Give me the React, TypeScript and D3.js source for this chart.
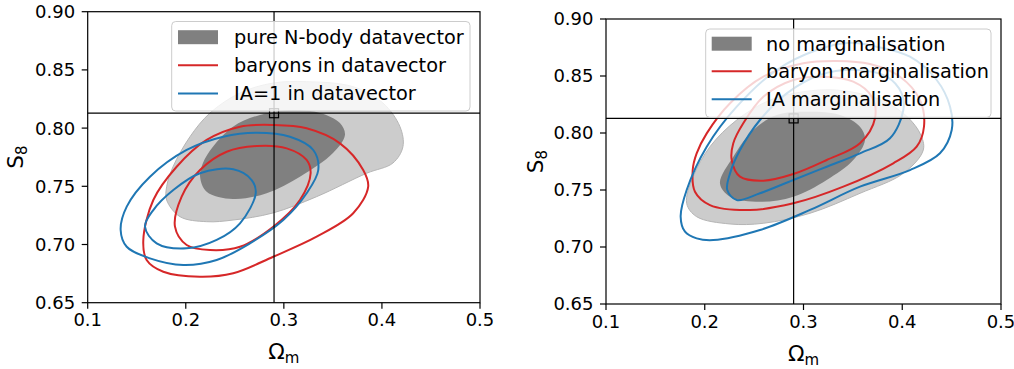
import * as d3 from 'd3'

type Pt = [number, number]

const xTicks = [0.1, 0.2, 0.3, 0.4, 0.5]
const yTicks = [0.65, 0.7, 0.75, 0.8, 0.85, 0.9]
const fiducial: Pt = [0.29, 0.8128]

// left panel: pure N-body (filled), baryons and IA=1 in datavector (lines)
const nbodyOuterL: Pt[] = [
  [0.1805, 0.7382], [0.1941, 0.7239], [0.2213, 0.7196], [0.2481, 0.721], [0.2889, 0.7271],
  [0.3334, 0.7411], [0.3844, 0.7612], [0.4112, 0.77], [0.4214, 0.784], [0.4184, 0.8012],
  [0.401, 0.8216], [0.3704, 0.8356], [0.3232, 0.8399], [0.2889, 0.8387], [0.2553, 0.8302],
  [0.2247, 0.813], [0.2043, 0.7926], [0.187, 0.7668], [0.1805, 0.7497],
]
const nbodyInnerL: Pt[] = [
  [0.2146, 0.7582], [0.2213, 0.7454], [0.2481, 0.7391], [0.2825, 0.744], [0.3164, 0.7582],
  [0.3501, 0.7786], [0.3623, 0.7941], [0.3572, 0.8044], [0.3368, 0.813], [0.3093, 0.8155],
  [0.2756, 0.8113], [0.2481, 0.8012], [0.2277, 0.784], [0.2175, 0.77],
]
const baryonOuterL: Pt[] = [
  [0.1567, 0.7039], [0.1601, 0.6867], [0.1771, 0.6766], [0.2145, 0.6723], [0.2484, 0.6753],
  [0.2892, 0.6895], [0.3334, 0.7067], [0.3707, 0.7268], [0.386, 0.7497], [0.3809, 0.764],
  [0.3572, 0.7869], [0.3232, 0.7998], [0.2892, 0.8027], [0.2553, 0.8012], [0.2213, 0.7898],
  [0.1907, 0.7668], [0.1669, 0.7382],
]
const baryonInnerL: Pt[] = [
  [0.189, 0.7153], [0.2009, 0.6996], [0.2247, 0.6953], [0.2553, 0.6981], [0.2892, 0.7153],
  [0.3164, 0.7382], [0.3273, 0.7612], [0.3232, 0.7726], [0.3029, 0.7826], [0.2723, 0.7846],
  [0.2417, 0.7797], [0.2145, 0.764], [0.1958, 0.7411],
]
const iaOuterL: Pt[] = [
  [0.1336, 0.7125], [0.1398, 0.6981], [0.1635, 0.6881], [0.1975, 0.6824], [0.2315, 0.6867],
  [0.2654, 0.701], [0.2994, 0.721], [0.3232, 0.744], [0.3351, 0.764], [0.33, 0.7812],
  [0.3062, 0.7926], [0.2723, 0.796], [0.2382, 0.7926], [0.2009, 0.7812], [0.1635, 0.7582],
  [0.1398, 0.7325],
]
const iaInnerL: Pt[] = [
  [0.1584, 0.7153], [0.1703, 0.701], [0.2009, 0.6967], [0.2315, 0.7039], [0.2553, 0.7182],
  [0.2713, 0.744], [0.2672, 0.7554], [0.2484, 0.7646], [0.2145, 0.7612], [0.1873, 0.7468],
  [0.1669, 0.7296],
]

// right panel: no / baryon / IA marginalisation
const noMargOuterR: Pt[] = [
  [0.1817, 0.7383], [0.1918, 0.7266], [0.2256, 0.7202], [0.2593, 0.7208], [0.3066, 0.7296],
  [0.3572, 0.7471], [0.4011, 0.7646], [0.4213, 0.7851], [0.418, 0.7997], [0.4011, 0.8173],
  [0.3741, 0.8304], [0.3336, 0.8377], [0.2998, 0.8362], [0.2661, 0.8289], [0.2324, 0.8114],
  [0.2053, 0.788], [0.1884, 0.7617],
]
const noMargInnerR: Pt[] = [
  [0.2154, 0.7559], [0.2256, 0.7441], [0.2559, 0.7397], [0.2897, 0.7441], [0.3235, 0.7588],
  [0.3504, 0.7763], [0.3623, 0.7939], [0.3572, 0.8055], [0.337, 0.8158], [0.3032, 0.8187],
  [0.2729, 0.8158], [0.2492, 0.8026], [0.2289, 0.7792],
]
const baryonOuterR: Pt[] = [
  [0.1878, 0.7675], [0.1901, 0.7485], [0.2053, 0.7368], [0.2458, 0.7325], [0.2897, 0.7383],
  [0.3403, 0.7529], [0.3909, 0.7734], [0.4146, 0.788], [0.422, 0.8055], [0.418, 0.8289],
  [0.3977, 0.8494], [0.3673, 0.8605], [0.3336, 0.8632], [0.2998, 0.8611], [0.2593, 0.8494],
  [0.2256, 0.8261], [0.202, 0.7997], [0.1918, 0.7822],
]
const baryonInnerR: Pt[] = [
  [0.2273, 0.7763], [0.2357, 0.7617], [0.2593, 0.7582], [0.2897, 0.764], [0.3235, 0.7763],
  [0.3572, 0.791], [0.3724, 0.8129], [0.3691, 0.8318], [0.3504, 0.845], [0.32, 0.8494],
  [0.2897, 0.8465], [0.2593, 0.8318], [0.239, 0.8085], [0.2289, 0.791],
]
const iaOuterR: Pt[] = [
  [0.1756, 0.7266], [0.18, 0.7134], [0.1918, 0.7076], [0.2087, 0.7061], [0.2559, 0.7149],
  [0.3066, 0.7325], [0.3572, 0.7529], [0.4078, 0.7675], [0.4382, 0.7822], [0.4501, 0.8026],
  [0.4484, 0.8231], [0.4349, 0.8465], [0.4078, 0.8669], [0.3741, 0.8757], [0.3471, 0.8792],
  [0.3134, 0.8728], [0.2729, 0.8553], [0.2324, 0.8231], [0.202, 0.788], [0.1817, 0.75],
]
const iaInnerR: Pt[] = [
  [0.2228, 0.75], [0.2324, 0.7412], [0.2559, 0.7471], [0.2897, 0.7588], [0.3235, 0.7704],
  [0.3572, 0.7822], [0.3876, 0.7954], [0.4011, 0.8202], [0.3994, 0.8348], [0.3843, 0.8494],
  [0.3539, 0.8553], [0.3167, 0.8509], [0.283, 0.8348], [0.2559, 0.8114], [0.2357, 0.7851],
  [0.2256, 0.7646],
]

const leftLabels = ['pure N-body datavector', 'baryons in datavector', 'IA=1 in datavector']
const rightLabels = ['no marginalisation', 'baryon marginalisation', 'IA marginalisation']

const RED = '#d62728'
const BLUE = '#1f77b4'
const DARK = '#808080'
const LIGHT = '#cccccc'
const FONT = 'DejaVu Sans'

interface Box { left: number; right: number; top: number; bottom: number }
interface LegendBox { x: number; y: number; w: number; h: number; handleX: number; textX: number; rows: number[] }

interface PanelProps {
  box: Box
  outer: Pt[]
  inner: Pt[]
  redLines: Pt[][]
  blueLines: Pt[][]
  labels: string[]
  legend: LegendBox
  yLabelX: number
}

function Panel({ box, outer, inner, redLines, blueLines, labels, legend, yLabelX }: PanelProps) {
  const x = d3.scaleLinear().domain([0.1, 0.5]).range([box.left, box.right])
  const y = d3.scaleLinear().domain([0.65, 0.9]).range([box.bottom, box.top])
  const path = d3
    .line<Pt>()
    .x(d => x(d[0]))
    .y(d => y(d[1]))
    .curve(d3.curveCatmullRomClosed.alpha(0.5))

  const fx = x(fiducial[0])
  const fy = y(fiducial[1])
  const midX = (box.left + box.right) / 2
  const midY = (box.top + box.bottom) / 2

  return (
    <g fontFamily={FONT}>
      {/* contours */}
      <path d={path(outer) ?? ''} fill={LIGHT} stroke="#b5b5b5" strokeWidth={1} />
      <path d={path(inner) ?? ''} fill={DARK} stroke="none" />
      {redLines.map((c, i) => (
        <path key={'r' + i} d={path(c) ?? ''} fill="none" stroke={RED} strokeWidth={2} />
      ))}
      {blueLines.map((c, i) => (
        <path key={'b' + i} d={path(c) ?? ''} fill="none" stroke={BLUE} strokeWidth={2} />
      ))}

      {/* fiducial */}
      <line x1={fx} x2={fx} y1={box.top} y2={box.bottom} stroke="#000" strokeWidth={1.2} />
      <line x1={box.left} x2={box.right} y1={fy} y2={fy} stroke="#000" strokeWidth={1.2} />
      <rect x={fx - 4.5} y={fy - 4.5} width={9} height={9} fill="none" stroke="#000" strokeWidth={1.2} />

      {/* legend */}
      <rect x={legend.x} y={legend.y} width={legend.w} height={legend.h} rx={4}
        fill="#fff" fillOpacity={0.8} stroke="#cccccc" strokeWidth={1} />
      {labels.map((label, i) => {
        const ry = legend.rows[i]
        return (
          <g key={label}>
            {i === 0 ? (
              <rect x={legend.handleX} y={ry - 7} width={40} height={14} fill={DARK} />
            ) : (
              <line x1={legend.handleX} x2={legend.handleX + 40} y1={ry} y2={ry}
                stroke={i === 1 ? RED : BLUE} strokeWidth={2} />
            )}
            <text x={legend.textX} y={ry} dy="0.36em" fontSize={19.3} fill="#000">{label}</text>
          </g>
        )
      })}

      {/* spines */}
      <rect x={box.left} y={box.top} width={box.right - box.left} height={box.bottom - box.top}
        fill="none" stroke="#000" strokeWidth={1.2} />

      {/* x axis */}
      {xTicks.map(t => (
        <g key={'x' + t}>
          <line x1={x(t)} x2={x(t)} y1={box.bottom} y2={box.bottom + 6} stroke="#000" strokeWidth={1.2} />
          <text x={x(t)} y={box.bottom + 23.5} textAnchor="middle" fontSize={18}>{t.toFixed(1)}</text>
        </g>
      ))}
      {/* y axis */}
      {yTicks.map(t => (
        <g key={'y' + t}>
          <line x1={box.left - 6} x2={box.left} y1={y(t)} y2={y(t)} stroke="#000" strokeWidth={1.2} />
          <text x={box.left - 12.5} y={y(t)} dy="0.36em" textAnchor="end" fontSize={18}>{t.toFixed(2)}</text>
        </g>
      ))}

      {/* axis labels */}
      <text x={midX} y={box.bottom + 56.5} textAnchor="middle" fontSize={21.6}>
        Ω<tspan fontSize={15} dy={4}>m</tspan>
      </text>
      <text transform={`translate(${yLabelX},${midY}) rotate(-90)`} textAnchor="middle" fontSize={21.6}>
        S<tspan fontSize={15} dy={4}>8</tspan>
      </text>
    </g>
  )
}

export default function App() {
  return (
    <svg width={1014} height={369} style={{ position: 'absolute', left: 0, top: 0, background: '#fff' }}>
      <rect width={1014} height={369} fill="#fff" />
      <Panel
        box={{ left: 87.7, right: 480, top: 11.7, bottom: 302.7 }}
        outer={nbodyOuterL}
        inner={nbodyInnerL}
        redLines={[baryonOuterL, baryonInnerL]}
        blueLines={[iaOuterL, iaInnerL]}
        labels={leftLabels}
        legend={{ x: 171.7, y: 21.5, w: 298.3, h: 89.5, handleX: 178, textX: 234, rows: [37.2, 65.2, 93.4] }}
        yLabelX={23.3}
      />
      <Panel
        box={{ left: 606, right: 1001, top: 19, bottom: 304 }}
        outer={noMargOuterR}
        inner={noMargInnerR}
        redLines={[baryonOuterR, baryonInnerR]}
        blueLines={[iaOuterR, iaInnerR]}
        labels={rightLabels}
        legend={{ x: 705.7, y: 29, w: 285.3, h: 88.3, handleX: 711.7, textX: 766, rows: [43.7, 71.2, 99.3] }}
        yLabelX={543}
      />
    </svg>
  )
}
